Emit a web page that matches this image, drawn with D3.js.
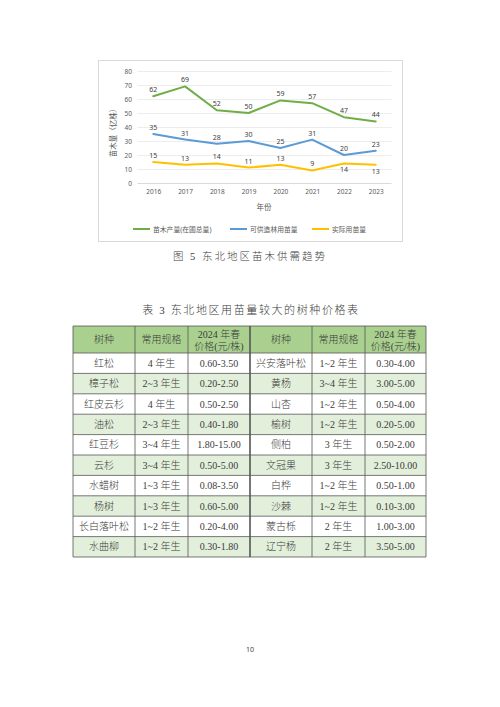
<!DOCTYPE html>
<html>
<head>
<meta charset="utf-8">
<script src="https://cdn.jsdelivr.net/npm/d3@7"></script>
<style>
  html, body { margin: 0; padding: 0; background: #fff; }
  svg { display: block; }
</style>
</head>
<body>
<svg id="page" width="500" height="707"></svg>
<script>
(function () {
    "use strict";

    // chart data: seedling supply and demand, NE China (100 million plants)
    const years = ["2016", "2017", "2018", "2019", "2020", "2021", "2022", "2023"];
    const seriesNames = ["苗木产量(在圃总量)", "可供造林用苗量", "实际用苗量"];
    const totalStock = [62, 69, 52, 50, 59, 57, 47, 44];
    const afforestSupply = [35, 31, 28, 30, 25, 31, 20, 23];
    const actualUse = [15, 13, 14, 11, 13, 9, 14, 13];
    const yTicks = [0, 10, 20, 30, 40, 50, 60, 70, 80];
    // years where the yellow label sits under the line
    const labelsBelow = ["2022", "2023"];

    // table data
    const tableHead = ["树种", "常用规格", "2024 年春|价格(元/株)", "树种", "常用规格", "2024 年春|价格(元/株)"];
    const speciesLeft = ["红松", "樟子松", "红皮云杉", "油松", "红豆杉", "云杉", "水蜡树", "杨树", "长白落叶松", "水曲柳"];
    const specLeft = ["4 年生", "2~3 年生", "4 年生", "2~3 年生", "3~4 年生", "3~4 年生", "1~3 年生", "1~3 年生", "1~2 年生", "1~2 年生"];
    const priceLeft = ["0.60-3.50", "0.20-2.50", "0.50-2.50", "0.40-1.80", "1.80-15.00", "0.50-5.00", "0.08-3.50", "0.60-5.00", "0.20-4.00", "0.30-1.80"];
    const speciesRight = ["兴安落叶松", "黄杨", "山杏", "榆树", "侧柏", "文冠果", "白桦", "沙棘", "蒙古栎", "辽宁杨"];
    const specRight = ["1~2 年生", "3~4 年生", "1~2 年生", "1~2 年生", "3 年生", "3 年生", "1~2 年生", "1~2 年生", "2 年生", "2 年生"];
    const priceRight = ["0.30-4.00", "3.00-5.00", "0.50-4.00", "0.20-5.00", "0.50-2.00", "2.50-10.00", "0.50-1.00", "0.10-3.00", "1.00-3.00", "3.50-5.00"];

    const colors = ["#70AD47", "#5B9BD5", "#FFC000"];
    const chartFont = "'Noto Sans', 'Noto Sans CJK SC', sans-serif";
    const docFont = "'Liberation Serif', 'Noto Sans CJK SC', serif";
    const docColor = "#3c3c3c";

    const svg = d3.select("#page");

    // ---------- chart ----------
    svg.append("rect")
        .attr("x", 98.5).attr("y", 60.5)
        .attr("width", 304).attr("height", 181)
        .attr("fill", "#fff").attr("stroke", "#d9d9d9");

    const x = d3.scalePoint().domain(years).range([137.4, 391.6]).padding(0.5);
    const y = d3.scaleLinear().domain([0, 80]).range([183, 71]);

    const chart = svg.append("g");

    // gridlines
    chart.append("g")
        .selectAll("line")
        .data(yTicks)
        .join("line")
        .attr("x1", 137.4).attr("x2", 391.6)
        .attr("y1", (d) => Math.round(y(d)) + 0.5)
        .attr("y2", (d) => Math.round(y(d)) + 0.5)
        .attr("stroke", (d) => (d === 0 ? "#d0d0d0" : "#e8e8e8"))
        .attr("stroke-width", 0.8);

    // y axis labels
    const yAxis = d3.axisLeft(y).tickValues(yTicks).tickSize(0).tickPadding(0);
    chart.append("g")
        .attr("transform", "translate(132,0)")
        .call(yAxis)
        .call((g) => g.select(".domain").remove())
        .call((g) => g.selectAll("text")
            .attr("fill", "#595959")
            .style("font-family", chartFont)
            .style("font-size", "6.5px"));

    // x axis labels
    const xAxis = d3.axisBottom(x).tickSize(0).tickPadding(0);
    chart.append("g")
        .attr("transform", "translate(0,189)")
        .call(xAxis)
        .call((g) => g.select(".domain").remove())
        .call((g) => g.selectAll("text")
            .attr("fill", "#595959")
            .style("font-family", chartFont)
            .style("font-size", "6.5px"));

    chart.append("text")
        .attr("x", 264).attr("y", 210)
        .attr("text-anchor", "middle")
        .attr("fill", "#595959")
        .style("font-family", chartFont)
        .style("font-size", "7.5px")
        .text("年份");

    chart.append("text")
        .attr("transform", "translate(116,131) rotate(-90)")
        .attr("text-anchor", "middle")
        .attr("fill", "#595959")
        .style("font-family", chartFont)
        .style("font-size", "7.5px")
        .text("苗木量（亿株）");

    const allSeries = [totalStock, afforestSupply, actualUse];
    const line = d3.line()
        .x((d, i) => x(years[i]))
        .y((d) => y(d));

    allSeries.forEach((values, s) => {
        chart.append("path")
            .datum(values)
            .attr("d", line)
            .attr("fill", "none")
            .attr("stroke", colors[s])
            .attr("stroke-width", 2)
            .attr("stroke-linejoin", "round")
            .attr("stroke-linecap", "round");
    });

    // data labels
    allSeries.forEach((values, s) => {
        chart.append("g")
            .selectAll("text")
            .data(values)
            .join("text")
            .attr("x", (d, i) => x(years[i]))
            .attr("y", (d, i) => {
                const below = s === 2 && labelsBelow.includes(years[i]);
                return below ? y(d) + 9 : y(d) - 4;
            })
            .attr("text-anchor", "middle")
            .attr("fill", "#404040")
            .style("font-family", chartFont)
            .style("font-size", "7px")
            .text((d) => d);
    });

    // legend
    const legendX = [133, 230, 312];
    const legend = chart.append("g")
        .selectAll("g")
        .data(seriesNames)
        .join("g")
        .attr("transform", (d, i) => `translate(${legendX[i]},229)`);
    legend.append("line")
        .attr("x1", 0).attr("x2", 17)
        .attr("y1", 0).attr("y2", 0)
        .attr("stroke", (d, i) => colors[i])
        .attr("stroke-width", 2);
    legend.append("text")
        .attr("x", 20).attr("y", 2.5)
        .attr("fill", "#595959")
        .style("font-family", chartFont)
        .style("font-size", "6.8px")
        .text((d) => d);

    // ---------- captions ----------
    svg.append("text")
        .attr("x", 250).attr("y", 260)
        .attr("text-anchor", "middle")
        .attr("fill", docColor)
        .style("font-family", docFont)
        .style("font-weight", 300)
        .style("font-size", "10.5px")
        .style("letter-spacing", "2px")
        .text("图 5 东北地区苗木供需趋势");

    svg.append("text")
        .attr("x", 251).attr("y", 314)
        .attr("text-anchor", "middle")
        .attr("fill", docColor)
        .style("font-family", docFont)
        .style("font-weight", 300)
        .style("font-size", "11px")
        .style("letter-spacing", "1.6px")
        .text("表 3 东北地区用苗量较大的树种价格表");

    // ---------- table ----------
    const colEdges = [73, 135, 188, 250, 312, 365, 426];
    const headTop = 326, headBottom = 353, rowH = 20.4;
    const rows = speciesLeft.map((d, i) =>
        [d, specLeft[i], priceLeft[i], speciesRight[i], specRight[i], priceRight[i]]);
    const tableBottom = headBottom + rows.length * rowH;

    const table = svg.append("g");

    table.append("rect")
        .attr("x", colEdges[0]).attr("y", headTop)
        .attr("width", colEdges[6] - colEdges[0]).attr("height", headBottom - headTop)
        .attr("fill", "#A9D08E");

    table.append("g")
        .selectAll("rect")
        .data(rows)
        .join("rect")
        .attr("x", colEdges[0])
        .attr("y", (d, i) => headBottom + i * rowH)
        .attr("width", colEdges[6] - colEdges[0])
        .attr("height", rowH)
        .attr("fill", (d, i) => (i % 2 === 1 ? "#E2EFDA" : "#fff"));

    // header text
    const head = table.append("g")
        .selectAll("text")
        .data(tableHead)
        .join("text")
        .attr("x", (d, i) => (colEdges[i] + colEdges[i + 1]) / 2)
        .attr("text-anchor", "middle")
        .attr("fill", docColor)
        .style("font-family", docFont)
        .style("font-weight", 300)
        .style("font-size", "10px");
    head.each(function (d) {
        const parts = d.split("|");
        const t = d3.select(this);
        if (parts.length === 1) {
            t.attr("y", (headTop + headBottom) / 2 + 3.5).text(d);
        } else {
            t.attr("y", 337.5);
            t.append("tspan").attr("x", t.attr("x")).text(parts[0]);
            t.append("tspan").attr("x", t.attr("x")).attr("dy", 12).text(parts[1]);
        }
    });

    // body text
    table.append("g")
        .selectAll("g")
        .data(rows)
        .join("g")
        .attr("transform", (d, i) => `translate(0,${headBottom + i * rowH + rowH / 2 + 3.5})`)
        .selectAll("text")
        .data((d) => d)
        .join("text")
        .attr("x", (d, i) => (colEdges[i] + colEdges[i + 1]) / 2)
        .attr("text-anchor", "middle")
        .attr("fill", docColor)
        .style("font-family", docFont)
        .style("font-weight", 300)
        .style("font-size", "10px")
        .text((d) => d);

    // grid lines of the table
    const hLines = [headTop, headBottom].concat(rows.map((d, i) => headBottom + (i + 1) * rowH));
    table.append("g")
        .selectAll("line")
        .data(hLines)
        .join("line")
        .attr("x1", colEdges[0]).attr("x2", colEdges[6])
        .attr("y1", (d) => d).attr("y2", (d) => d)
        .attr("stroke", "#555")
        .attr("stroke-width", 0.8);
    table.append("g")
        .selectAll("line")
        .data(colEdges)
        .join("line")
        .attr("x1", (d) => d).attr("x2", (d) => d)
        .attr("y1", headTop).attr("y2", tableBottom)
        .attr("stroke", "#555")
        .attr("stroke-width", (d, i) => (i === 3 ? 1.6 : 0.8));

    // page number
    svg.append("text")
        .attr("x", 250).attr("y", 652)
        .attr("text-anchor", "middle")
        .attr("fill", "#444")
        .style("font-family", chartFont)
        .style("font-size", "7px")
        .text("10");
})();
</script>
</body>
</html>
